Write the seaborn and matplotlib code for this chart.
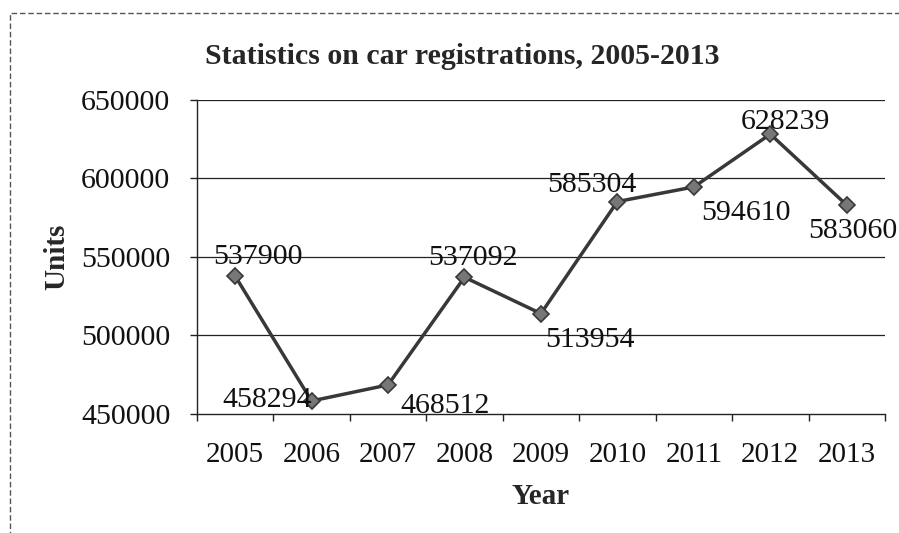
import matplotlib
matplotlib.use("Agg")
import matplotlib.pyplot as plt
import seaborn as sns
import pandas as pd
from matplotlib.patches import Rectangle

years = ["2005", "2006", "2007", "2008", "2009", "2010", "2011", "2012", "2013"]
units = [537900, 458294, 468512, 537092, 513954, 585304, 594610, 628239, 583060]
yticks = [450000, 500000, 550000, 600000, 650000]

# label offsets in points (dx, dy) and horizontal alignment per point
label_pos = [(-16, 14, "left"), (0, 32, "right"), (9, -15, "left"),
             (-26, 14, "left"), (3, -19, "left"), (14, 12, "right"),
             (5, -19, "left"), (-21, 9, "left"), (-28, -19, "left")]

sns.set_theme(style="white")
plt.rcParams["font.family"] = ["Liberation Serif", "DejaVu Serif"]

df = pd.DataFrame({"pos": range(len(years)), "Units": units})

fig = plt.figure(figsize=(8.99, 5.33), dpi=100)
ax = fig.add_axes([0.219, 0.2233, 0.7654, 0.5891])

for y in yticks[1:]:
    ax.axhline(y, color="#222222", lw=0.9, zorder=1)

sns.lineplot(data=df, x="pos", y="Units", ax=ax, color="#383838", lw=2.5,
             marker="D", markersize=8.5, markerfacecolor="#777777",
             markeredgecolor="#383838", markeredgewidth=1.2, zorder=3)

for i, (v, (dx, dy, ha)) in enumerate(zip(units, label_pos)):
    if i == 1:
        # this label sits just above the x axis, left of its point
        ax.annotate(str(v), (i, 450000), xytext=(dx, 10),
                    textcoords="offset points", ha=ha, va="center",
                    fontsize=21.5, color="#111111", annotation_clip=False,
                    zorder=4)
        continue
    ax.annotate(str(v), (i, v), xytext=(dx, dy), textcoords="offset points",
                ha=ha, va="center", fontsize=21.5, color="#111111",
                annotation_clip=False, zorder=4)

ax.set_xlim(-0.5, len(years) - 0.5)
ax.set_ylim(450000, 650000)
ax.set_yticks(yticks)
ax.set_yticklabels([str(t) for t in yticks], fontsize=21.5, color="#111111")
ax.set_xticks(range(len(years)))
ax.set_xticklabels(years, fontsize=21, color="#111111")
ax.set_xticks([i - 0.5 for i in range(len(years) + 1)], minor=True)
ax.tick_params(axis="x", which="major", length=0, pad=20)
ax.tick_params(axis="x", which="minor", length=5, width=1, color="#222222",
               direction="out", bottom=True)
ax.tick_params(axis="y", length=5, width=1, color="#222222", direction="out",
               left=True, pad=14)

for side in ["top", "right"]:
    ax.spines[side].set_visible(False)
for side in ["left", "bottom"]:
    ax.spines[side].set_color("#222222")
    ax.spines[side].set_linewidth(1.0)

ax.set_xlabel("Year", fontsize=21, fontweight="bold", labelpad=11)
ax.set_ylabel("Units", fontsize=21, fontweight="bold", labelpad=8)
ax.set_title("Statistics on car registrations, 2005-2013", fontsize=21.5,
             fontweight="bold", pad=26, x=0.385)

# dashed outer frame of the chart area
fig.patches.append(Rectangle((10 / 899, -0.1), 1.2, 1 - 13 / 533 + 0.1,
                             transform=fig.transFigure, fill=False,
                             edgecolor="#555555", lw=1.0, ls=(0, (4, 2))))

fig.savefig("out.png", dpi=100)
